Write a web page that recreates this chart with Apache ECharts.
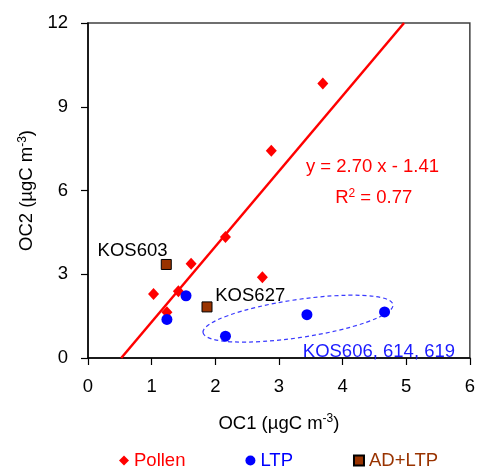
<!DOCTYPE html>
<html>
<head>
<meta charset="utf-8">
<script src="https://cdn.jsdelivr.net/npm/echarts@6/dist/echarts.min.js"></script>
<style>html,body{margin:0;padding:0;background:#fff;}#c{width:478px;height:468px;}</style>
</head>
<body>
<div id="c"></div>
<script>
// Data
const pollen = [[3.69, 9.83], [2.88, 7.42], [2.16, 4.33], [1.62, 3.38], [1.03, 2.29], [1.42, 2.39], [1.24, 1.64], [2.74, 2.89]];
const ltp = [[1.24, 1.38], [1.54, 2.23], [2.16, 0.78], [3.44, 1.55], [4.66, 1.65]];
const adltp = [[1.23, 3.35], [1.87, 1.83]];
const trend = [[0.522, 0], [4.966, 12]];
const xTicks = [0, 1, 2, 3, 4, 5, 6];
const yTicks = [0, 3, 6, 9, 12];
const noteNames = ['KOS603', 'KOS627', 'KOS606, 614, 619', 'y = 2.70 x - 1.41', 'R2 = 0.77'];
const notePos = [[0.70, 3.84], [2.00, 2.23], [3.375, 0.23], [4.47, 6.85], [4.49, 5.73]];
const ellipseCenter = [[3.30, 1.41]];

const FONT = '"Liberation Sans", Arial, sans-serif';
const FS = 18.5;
const chart = echarts.init(document.getElementById('c'), null, { renderer: 'canvas' });

const noteColor = ['#000000', '#000000', '#1a1aff', '#ff0000', '#ff0000'];
const noteAlign = ['center', 'left', 'left', 'center', 'center'];
const supRich = (c) => ({ sup: { fontSize: 12, verticalAlign: 'top', padding: [0, 0, 9, 0], color: c, fontFamily: FONT } });

const notesData = noteNames.map((n, i) => ({
  name: n, value: notePos[i],
  label: {
    show: true, position: 'inside', fontSize: FS, fontFamily: FONT,
    color: noteColor[i], align: noteAlign[i], textBorderWidth: 0, opacity: 1,
    formatter: n === 'R2 = 0.77' ? 'R{sup|2} = 0.77' : n,
    rich: supRich(noteColor[i])
  }
}));

chart.setOption({
  animation: false,
  textStyle: { fontFamily: FONT },
  grid: { left: 88, right: 5, top: 23, bottom: 110, show: true, borderColor: '#404040', borderWidth: 1.5 },
  legend: {
    left: 119, top: 451, padding: 0, itemGap: 60, itemWidth: 10, itemHeight: 10,
    textStyle: { fontSize: FS, fontFamily: FONT },
    data: [
      { name: 'Pollen', icon: 'diamond', textStyle: { color: '#ff0000' } },
      { name: 'LTP', icon: 'circle', textStyle: { color: '#0000ff' } },
      { name: 'AD+LTP', icon: 'rect', textStyle: { color: '#993300' } }
    ]
  },
  xAxis: {
    type: 'value', min: xTicks[0], max: xTicks[xTicks.length - 1], interval: 1,
    splitLine: { show: false },
    axisLine: { onZero: false, lineStyle: { color: '#000', width: 1.5 } },
    axisTick: { inside: false, length: 7, lineStyle: { color: '#000', width: 1.2 } },
    axisLabel: { fontSize: FS, color: '#000', margin: 19, fontFamily: FONT },
    name: 'OC1 (µgC m{sup|-3})', nameLocation: 'middle', nameGap: 55,
    nameTextStyle: { fontSize: FS, color: '#000', fontFamily: FONT, rich: supRich('#000') }
  },
  yAxis: {
    type: 'value', min: yTicks[0], max: yTicks[yTicks.length - 1], interval: 3,
    splitLine: { show: false },
    axisLine: { onZero: false, lineStyle: { color: '#000', width: 1.5 } },
    axisTick: { inside: false, length: 7, lineStyle: { color: '#000', width: 1.2 } },
    axisLabel: { fontSize: FS, color: '#000', margin: 20, fontFamily: FONT },
    name: 'OC2 (µgC m{sup|-3})', nameLocation: 'middle', nameGap: 48, nameRotate: 90,
    nameTextStyle: { fontSize: FS, color: '#000', fontFamily: FONT, rich: supRich('#000') }
  },
  series: [
    {
      name: 'trend', type: 'line', data: trend, symbol: 'none', silent: true,
      lineStyle: { color: '#ff0000', width: 2.5 }, z: 1
    },
    {
      name: 'ellipse', type: 'custom', data: ellipseCenter, silent: true, z: 1,
      renderItem: function (params, api) {
        const p = api.coord([api.value(0), api.value(1)]);
        return {
          type: 'ellipse',
          x: p[0], y: p[1],
          rotation: 8.4 * Math.PI / 180,
          shape: { cx: 0, cy: 0, rx: 96, ry: 19 },
          style: { fill: 'none', stroke: '#3a3aff', lineWidth: 1.2, lineDash: [4, 3] }
        };
      }
    },
    {
      name: 'Pollen', type: 'scatter', data: pollen, symbol: 'diamond', symbolSize: [11, 12],
      itemStyle: { color: '#ff0000', opacity: 1 }, z: 3
    },
    {
      name: 'LTP', type: 'scatter', data: ltp, symbol: 'circle', symbolSize: 11,
      itemStyle: { color: '#0000ff', opacity: 1 }, z: 3
    },
    {
      name: 'AD+LTP', type: 'scatter', data: adltp, symbol: 'rect', symbolSize: 10,
      itemStyle: { color: '#993300', borderColor: '#000', borderWidth: 1, opacity: 1 }, z: 3
    },
    {
      name: 'notes', type: 'scatter', data: notesData, symbolSize: 0, silent: true, z: 4,
      itemStyle: { opacity: 1 }
    }
  ]
});
</script>
</body>
</html>
